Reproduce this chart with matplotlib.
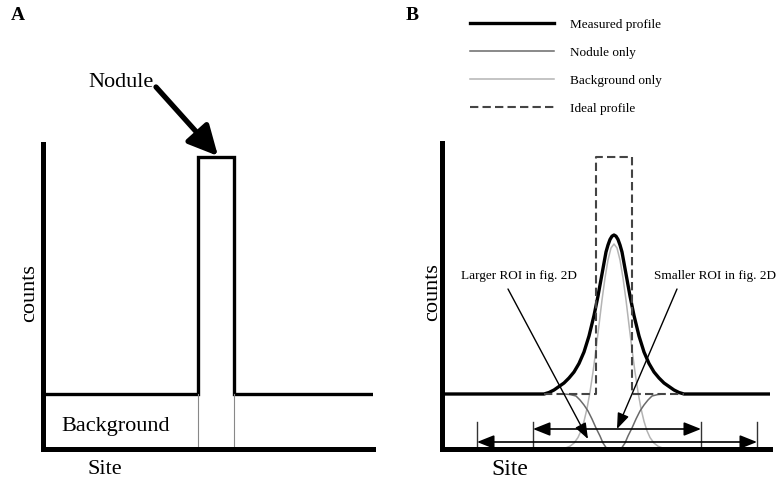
import matplotlib
matplotlib.use("Agg")
import matplotlib.pyplot as plt
from matplotlib.lines import Line2D

plt.rcParams['font.family'] = ['Liberation Serif', 'DejaVu Serif']

# ---------------- Panel A (schematic units: site 0-330, counts 0-305) -------------
a_site = [0, 155, 155, 191, 191, 330]
a_counts = [55, 55, 292, 292, 55, 55]
a_nodule_edges = [155, 191]
a_background_level = 55

# ---------------- Panel B (schematic units: site 0-328, counts 0-306) -------------
b_site_measured = [0, 102, 107, 112, 117, 122, 127, 132, 137, 142, 147, 152, 156, 160,
                   164, 166, 168, 170, 172, 174, 176, 178, 180, 184, 188, 192, 197, 202,
                   207, 212, 217, 222, 227, 232, 237, 242, 328]
b_measured = [55, 55, 56.5, 59, 62.5, 66, 71, 77, 85.5, 97, 113, 133.5, 153, 175,
              197, 204, 209.5, 212.8, 214, 212.8, 209.5, 204, 197, 175, 153, 133.5, 113,
              97, 85.5, 77, 71, 66, 62.5, 59, 56.5, 55, 55]

b_site_background = [117, 124, 128, 132, 136, 139, 142, 145, 148, 151, 154, 157, 160, 163,
                     166, 169, 172, 175, 178, 181, 184, 187, 190, 193, 196, 199, 202, 205,
                     208, 212, 216, 220, 227]
b_background_only = [0, 1.2, 2.8, 5.9, 11.5, 18.2, 27.7, 40.4, 57, 77, 99.7, 124, 149, 171,
                     189, 201, 205, 201, 189, 171, 149, 124, 99.7, 77, 57, 40.4, 27.7, 18.2,
                     11.5, 5.9, 2.8, 1.2, 0]

b_site_nodule = [122, 128, 134, 138, 142, 146, 150, 154, 158, 161, 164, 167, 172,
                 177, 180, 183, 186, 190, 194, 198, 202, 206, 210, 216, 222]
b_nodule_only = [55, 54.5, 53, 49, 44, 38, 30, 21, 13, 6, 1.5, 0, 0,
                 0, 1.5, 6, 13, 21, 30, 38, 44, 49, 53, 54.5, 55]

b_site_ideal = [102, 154, 154, 190, 190, 242]
b_ideal = [55, 55, 292, 292, 55, 55]

b_roi_small = [91, 259]
b_roi_large = [35, 315]
b_roi_arrow_level = [20, 7]
b_roi_tick_height = 27

legend_labels = ['Measured profile', 'Nodule only', 'Background only', 'Ideal profile']

W, H = 779, 481
fig = plt.figure(figsize=(W / 100, H / 100), dpi=100)


def axes_px(x0, x1, ytop, ybot):
    return fig.add_axes([x0 / W, (H - ybot) / H, (x1 - x0) / W, (ybot - ytop) / H])


def style_axes(ax):
    for s in ['top', 'right']:
        ax.spines[s].set_visible(False)
    for s in ['left', 'bottom']:
        ax.spines[s].set_linewidth(3.6)
        ax.spines[s].set_capstyle('projecting')
    ax.set_xticks([])
    ax.set_yticks([])
    ax.patch.set_alpha(0)


# ---------------- Panel A ----------------
axA = axes_px(43, 373, 145, 450)
style_axes(axA)
axA.set_xlim(0, 330)
axA.set_ylim(0, 305)
axA.plot(a_site, a_counts, color='black', lw=2.4, solid_joinstyle='miter')
for xe in a_nodule_edges:
    axA.plot([xe, xe], [0, a_background_level], color='#888888', lw=0.8)
axA.text(73, 23, 'Background', fontsize=16, ha='center', va='center')
axA.text(78, 367, 'Nodule', fontsize=16, ha='center', va='center', clip_on=False)
axA.annotate('', xy=(175, 293), xytext=(113, 362),
             arrowprops=dict(arrowstyle='-|>,head_length=0.9,head_width=0.45',
                             color='black', lw=3.8, shrinkA=0, shrinkB=0,
                             mutation_scale=20),
             annotation_clip=False)
axA.set_ylabel('counts', fontsize=16)
axA.yaxis.set_label_coords(-0.04, 0.515)
axA.yaxis.label.set_verticalalignment('center')
axA.set_xlabel('Site', fontsize=16)
axA.xaxis.set_label_coords(0.188, -0.065)
axA.xaxis.label.set_verticalalignment('center')
fig.text(18 / W, 1 - 16 / H, 'A', fontsize=14, fontweight='bold', ha='center', va='center')

# ---------------- Panel B ----------------
axB = axes_px(442, 770, 144, 450)
style_axes(axB)
axB.set_xlim(0, 328)
axB.set_ylim(0, 306)

l_bg, = axB.plot(b_site_background, b_background_only, color='#b4b4b4', lw=1.1)
l_nod, = axB.plot(b_site_nodule, b_nodule_only, color='#6a6a6a', lw=1.1)
l_meas, = axB.plot(b_site_measured, b_measured, color='black', lw=2.4)
l_ideal, = axB.plot(b_site_ideal, b_ideal, color='#444444', lw=1.5, ls=(0, (4, 2)))

for xs, lev in zip([b_roi_small, b_roi_large], b_roi_arrow_level):
    for xe in xs:
        axB.plot([xe, xe], [0, b_roi_tick_height], color='#333333', lw=1.0)
    axB.annotate('', xy=(xs[1], lev), xytext=(xs[0], lev),
                 arrowprops=dict(arrowstyle='<|-|>,head_length=0.8,head_width=0.32',
                                 color='black', lw=1.2, shrinkA=0, shrinkB=0,
                                 mutation_scale=13))

axB.text(77, 174, 'Larger ROI in fig. 2D', fontsize=9.5, ha='center', va='center')
axB.text(273, 174, 'Smaller ROI in fig. 2D', fontsize=9.5, ha='center', va='center',
         clip_on=False)
axB.annotate('', xy=(146, 10), xytext=(66, 160),
             arrowprops=dict(arrowstyle='-|>,head_length=0.8,head_width=0.3',
                             color='black', lw=1.0, shrinkA=0, shrinkB=0,
                             mutation_scale=12))
axB.annotate('', xy=(175, 20), xytext=(235, 160),
             arrowprops=dict(arrowstyle='-|>,head_length=0.8,head_width=0.3',
                             color='black', lw=1.0, shrinkA=0, shrinkB=0,
                             mutation_scale=12))

axB.set_ylabel('counts', fontsize=16)
axB.yaxis.set_label_coords(-0.03, 0.515)
axB.yaxis.label.set_verticalalignment('center')
axB.set_xlabel('Site', fontsize=17)
axB.xaxis.set_label_coords(0.207, -0.065)
axB.xaxis.label.set_verticalalignment('center')
fig.text(412 / W, 1 - 16 / H, 'B', fontsize=14, fontweight='bold', ha='center', va='center')

handles = [Line2D([], [], color='black', lw=2.4),
           Line2D([], [], color='#6a6a6a', lw=1.1),
           Line2D([], [], color='#b4b4b4', lw=1.1),
           Line2D([], [], color='#444444', lw=1.5, ls=(0, (4, 2)))]
fig.legend(handles, legend_labels, loc='upper left',
           bbox_to_anchor=(470 / W, 1 - 19 / H), frameon=False, fontsize=9.5,
           handlelength=6.4, handletextpad=1.2, labelspacing=1.2,
           borderpad=0, borderaxespad=0)

fig.savefig('out.png', dpi=100)
